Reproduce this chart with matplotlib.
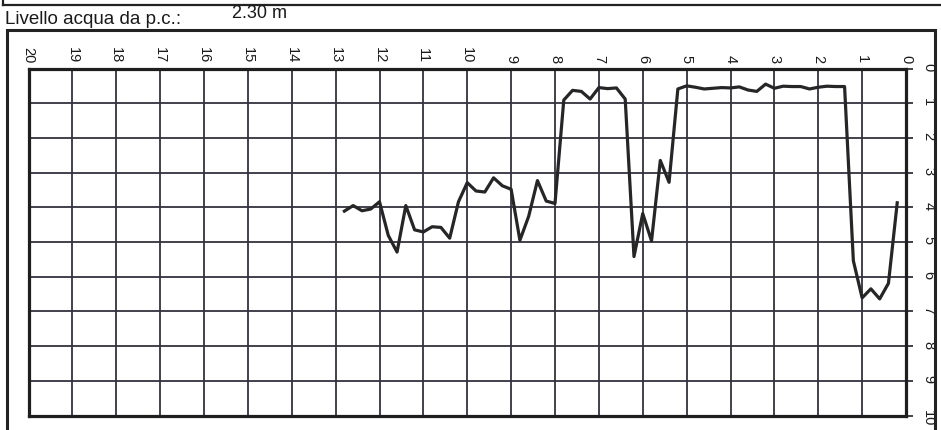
import matplotlib.pyplot as plt
from matplotlib.patches import Rectangle
from matplotlib.lines import Line2D

plt.rcParams['font.family'] = ['Liberation Sans', 'DejaVu Sans']

depth = [12.8, 12.6, 12.4, 12.2, 12.0, 11.8, 11.6, 11.4, 11.2, 11.0,
         10.8, 10.6, 10.4, 10.2, 10.0, 9.8, 9.6, 9.4, 9.2, 9.0,
         8.8, 8.6, 8.4, 8.2, 8.0, 7.8, 7.6, 7.4, 7.2, 7.0,
         6.8, 6.6, 6.4, 6.2, 6.0, 5.8, 5.6, 5.4, 5.2, 5.0,
         4.8, 4.6, 4.4, 4.2, 4.0, 3.8, 3.6, 3.4, 3.2, 3.0,
         2.8, 2.6, 2.4, 2.2, 2.0, 1.8, 1.6, 1.4, 1.2, 1.0,
         0.8, 0.6, 0.4, 0.2]
reading = [4.11, 3.95, 4.10, 4.05, 3.84, 4.81, 5.29, 3.95, 4.65, 4.71,
           4.56, 4.58, 4.89, 3.84, 3.29, 3.53, 3.56, 3.15, 3.38, 3.48,
           4.95, 4.26, 3.23, 3.82, 3.89, 0.91, 0.63, 0.66, 0.88, 0.55,
           0.58, 0.56, 0.88, 5.42, 4.18, 4.97, 2.65, 3.28, 0.59, 0.50,
           0.54, 0.59, 0.57, 0.55, 0.56, 0.53, 0.62, 0.66, 0.45, 0.57,
           0.51, 0.52, 0.52, 0.59, 0.54, 0.51, 0.52, 0.52, 5.54, 6.61,
           6.35, 6.64, 6.19, 3.87]

xticks = list(range(0, 21))
yticks = list(range(0, 11))

W, H = 941, 430
fig = plt.figure(figsize=(W / 100, H / 100), dpi=100)

# frames of the printed form
fig.add_artist(Line2D([3 / W, 1], [1 - 5 / H, 1 - 5 / H], color='#222', lw=1.6))
fig.add_artist(Line2D([3 / W, 3 / W], [1, 1 - 5 / H], color='#222', lw=1.6))
fig.add_artist(Rectangle((7 / W, -0.05), 928 / W, 0.05 + 1 - 30 / H,
                         fill=False, ec='#222', lw=2.2))
fig.text(5 / W, 1 - 20 / H, 'Livello acqua da p.c.:', fontsize=13.5,
         va='center', ha='left', color='#1a1a1a')
fig.text(232 / W, 1 - 13 / H, '2.30 m', fontsize=13, va='center',
         ha='left', color='#1a1a1a')

ax = fig.add_axes([28.5 / W, 1 - 415.5 / H, 877.5 / W, 347 / H])
ax.plot(depth, reading, color='#262626', lw=2.3)

ax.set_xlim(20, 0)
ax.set_ylim(10, 0)
ax.set_xticks(xticks)
ax.set_yticks(yticks)
ax.grid(True, color='#33333f', lw=1.3)
ax.xaxis.tick_top()
ax.yaxis.tick_right()
ax.tick_params(axis='x', length=0, pad=4, labelsize=10.5, labelrotation=-90,
               labelcolor='#1a1a1a')
ax.tick_params(axis='y', length=5, width=1.3, pad=6, labelsize=10.5,
               labelrotation=-90, labelcolor='#1a1a1a', color='#33333f')
for s in ax.spines.values():
    s.set_linewidth(2.3)
    s.set_color('#1e1e1e')

fig.savefig('out.png', dpi=100)
